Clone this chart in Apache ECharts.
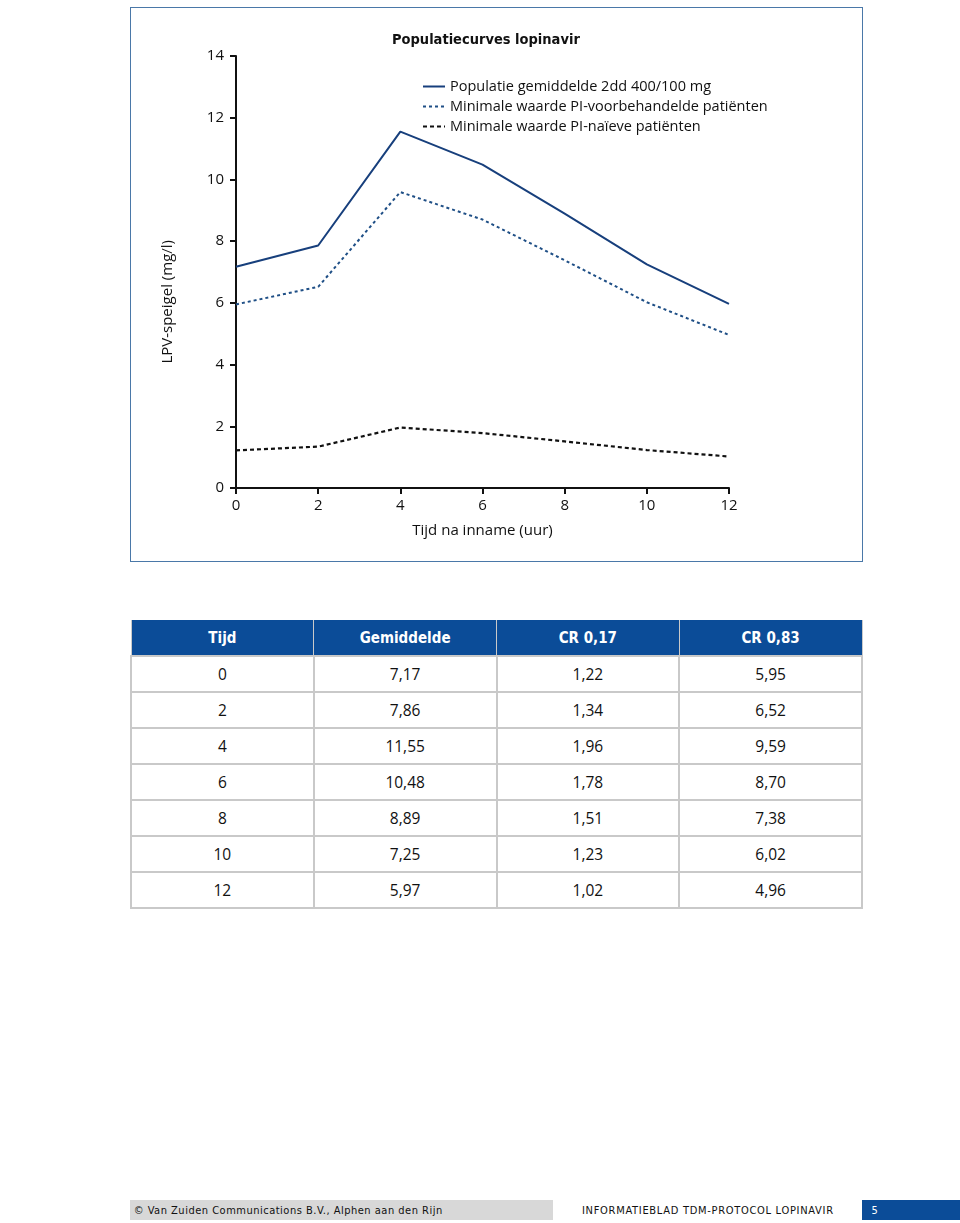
<!DOCTYPE html>
<html>
<head>
<meta charset="utf-8">
<script src="https://cdn.jsdelivr.net/npm/echarts@6/dist/echarts.min.js"></script>
<style>
  html,body{margin:0;padding:0;background:#fff;width:960px;height:1223px;overflow:hidden;font-family:"Open Sans",sans-serif;}
  #chart{position:absolute;left:130px;top:7px;width:731px;height:553px;border:1.5px solid #4a78a8;}
  table{position:absolute;left:130px;top:620px;width:733px;border-collapse:collapse;table-layout:fixed;}
  th{background:#0b4c98;color:#fff;font-family:"DejaVu Sans Condensed","Open Sans",sans-serif;font-weight:bold;font-size:15px;height:35px;border:1.5px solid #c9c9c9;border-top:none;padding:0;}
  td{height:34px;border:2px solid #c9c9c9;text-align:center;font-size:15.5px;color:#111;padding:0;}
  #foot{position:absolute;left:130px;top:1200px;width:423px;height:20px;background:#d8d8d8;font-family:"DejaVu Sans Condensed",sans-serif;font-size:11px;letter-spacing:0.5px;line-height:21px;color:#111;}
  #foot2{position:absolute;left:582px;top:1200px;height:20px;line-height:21px;font-family:"DejaVu Sans Condensed",sans-serif;font-size:11px;letter-spacing:0.7px;color:#111;}
  #pg{position:absolute;left:862px;top:1200px;width:98px;height:20px;background:#0b4c98;color:#fff;font-family:"DejaVu Sans Condensed",sans-serif;font-size:11px;line-height:21px;}
</style>
</head>
<body>
<div id="chart"></div>
<table id="tbl"></table>
<div id="foot">&nbsp;©&nbsp;Van Zuiden Communications B.V., Alphen aan den Rijn</div>
<div id="foot2">INFORMATIEBLAD TDM-PROTOCOL LOPINAVIR</div>
<div id="pg">&nbsp;&nbsp;&nbsp;5</div>
<script>
const times = [0, 2, 4, 6, 8, 10, 12];
const gemiddelde = [7.17, 7.86, 11.55, 10.48, 8.89, 7.25, 5.97];
const cr017 = [1.22, 1.34, 1.96, 1.78, 1.51, 1.23, 1.02];
const cr083 = [5.95, 6.52, 9.59, 8.70, 7.38, 6.02, 4.96];
const tableHeaders = ['Tijd', 'Gemiddelde', 'CR 0,17', 'CR 0,83'];
const seriesNames = ['Populatie gemiddelde 2dd 400/100 mg', 'Minimale waarde PI-voorbehandelde patiënten', 'Minimale waarde PI-naïeve patiënten'];

// table
const fmt = v => v.toFixed(2).replace('.', ',');
let html = '<tr>' + tableHeaders.map(h => '<th>' + h + '</th>').join('') + '</tr>';
times.forEach((t, i) => {
  html += '<tr><td>' + t + '</td><td>' + fmt(gemiddelde[i]) + '</td><td>' + fmt(cr017[i]) + '</td><td>' + fmt(cr083[i]) + '</td></tr>';
});
document.getElementById('tbl').innerHTML = html;

const chart = echarts.init(document.getElementById('chart'));
const txt = {fontFamily: 'Open Sans', color: '#111'};
const pair = arr => times.map((t, i) => [t, arr[i]]);
chart.setOption({
  animation: false,
  title: {text: 'Populatiecurves lopinavir', left: 256, top: 20,
    textStyle: {fontFamily: 'DejaVu Sans Condensed', fontWeight: 'bold', fontSize: 14.5, color: '#111'}},
  legend: {orient: 'vertical', left: 286, top: 66, itemWidth: 22, itemHeight: 10, itemGap: 5,
    itemStyle: {opacity: 0},
    textStyle: Object.assign({fontSize: 14.5}, txt),
    data: seriesNames},
  grid: {left: 105, right: 133, top: 48, bottom: 73},
  xAxis: {type: 'value', min: 0, max: 12, interval: 2,
    name: 'Tijd na inname (uur)', nameLocation: 'middle', nameGap: 35,
    nameTextStyle: Object.assign({fontSize: 15}, txt),
    axisLine: {lineStyle: {color: '#111', width: 2}},
    axisTick: {length: 6, lineStyle: {color: '#111', width: 2}},
    axisLabel: Object.assign({fontSize: 15, margin: 10}, txt),
    splitLine: {show: false}},
  yAxis: {type: 'value', min: 0, max: 14, interval: 2,
    axisLine: {show: true, lineStyle: {color: '#111', width: 2}},
    axisTick: {show: true, length: 6, lineStyle: {color: '#111', width: 2}},
    axisLabel: Object.assign({fontSize: 15, margin: 12}, txt),
    splitLine: {show: false}},
  graphic: [{type: 'text', left: 29, top: 232, rotation: Math.PI / 2,
    style: {text: 'LPV-speigel (mg/l)', fontSize: 15, fill: '#111', fontFamily: 'Open Sans'}}],
  series: [
    {name: seriesNames[0], type: 'line', data: pair(gemiddelde), symbol: 'none',
      lineStyle: {color: '#173f7c', width: 2}, itemStyle: {color: '#173f7c'}},
    {name: seriesNames[1], type: 'line', data: pair(cr083), symbol: 'none',
      lineStyle: {color: '#1f4f86', width: 2, type: [3, 3]}, itemStyle: {color: '#1f4f86'}},
    {name: seriesNames[2], type: 'line', data: pair(cr017), symbol: 'none',
      lineStyle: {color: '#111', width: 2.2, type: [4, 3]}, itemStyle: {color: '#111'}}
  ]
});
</script>
</body>
</html>
